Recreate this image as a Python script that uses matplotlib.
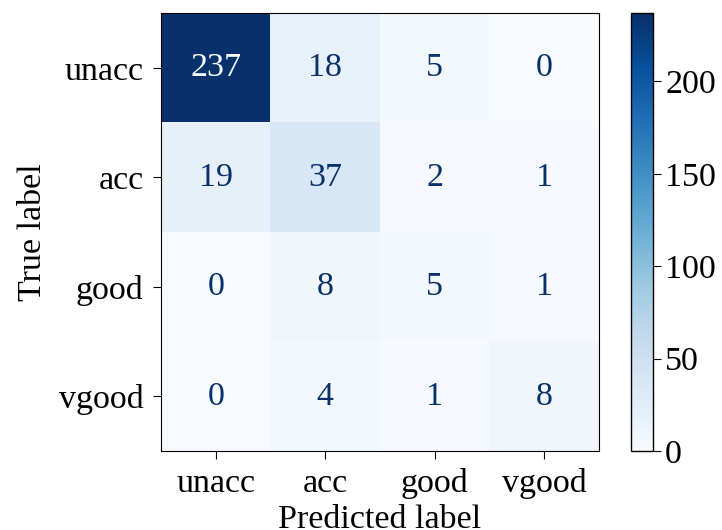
import numpy as np
import matplotlib
matplotlib.use('Agg')
import matplotlib.pyplot as plt

plt.rcParams['font.family'] = ['Liberation Serif', 'DejaVu Serif']

# Confusion matrix data
labels = ['unacc', 'acc', 'good', 'vgood']
cm = np.array([
    [237, 18, 5, 0],
    [19, 37, 2, 1],
    [0, 8, 5, 1],
    [0, 4, 1, 8],
])

fig = plt.figure(figsize=(7.22, 5.30), dpi=100)
ax = fig.add_axes([0.223, 0.149, 0.6066, 0.8264])
cax = fig.add_axes([0.874, 0.149, 0.0298, 0.8264])

cmap = plt.get_cmap('Blues')
im = ax.imshow(cm, cmap=cmap, vmin=0, vmax=cm.max(), aspect='auto')

# Cell values, light text on dark cells
thresh = (cm.max() + cm.min()) / 2.0
for i in range(cm.shape[0]):
    for j in range(cm.shape[1]):
        color = cmap(0.0) if cm[i, j] > thresh else cmap(1.0)
        ax.text(j, i, str(cm[i, j]), ha='center', va='center',
                color=color, fontsize=24.5)

ax.set_xticks(range(len(labels)))
ax.set_yticks(range(len(labels)))
ax.set_xticklabels(labels, fontsize=24.5)
ax.set_yticklabels(labels, fontsize=24.5)
ax.tick_params(length=5.5, pad=7)
ax.set_xlabel('Predicted label', fontsize=24.5, labelpad=4)
ax.set_ylabel('True label', fontsize=24.5, labelpad=8)

cb = fig.colorbar(im, cax=cax)
cb.set_ticks([0, 50, 100, 150, 200])
cb.ax.tick_params(labelsize=24.5, length=5.5)
cb.outline.set_linewidth(1.0)

plt.savefig('out.png', dpi=100)
